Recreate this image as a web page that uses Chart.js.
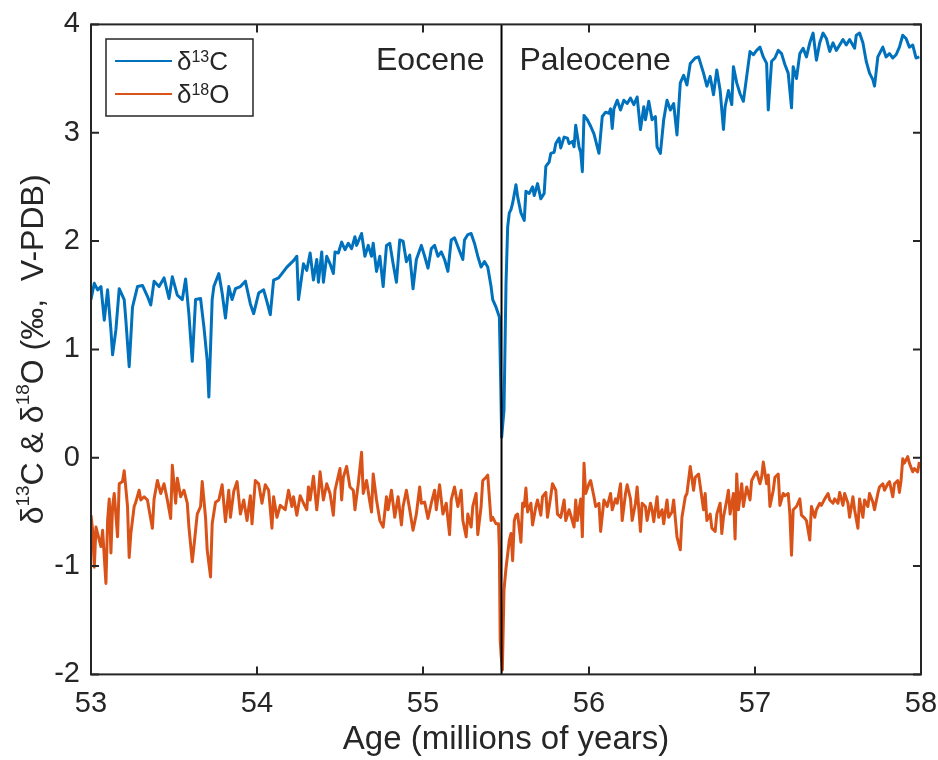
<!DOCTYPE html>
<html>
<head>
<meta charset="UTF-8">
<script src="https://cdn.jsdelivr.net/npm/chart.js@4.4.1/dist/chart.umd.min.js"></script>
<style>
    body { margin: 0; background: #fff; }
    .chart-container { position: relative; width: 938px; height: 760px; }
</style>
</head>
<body>
<div class="chart-container">
    <canvas id="isotopeChart"></canvas>
</div>
<script>
// ages in millions of years, values in per mil (V-PDB)
const carbonAge = [
    53.00,53.02,53.04,53.06,53.08,53.10,53.12,53.13,53.15,53.17,53.20,53.21,53.23,53.25,53.28,53.31,53.34,53.36,53.38,53.41,
    53.44,53.47,53.49,53.52,53.55,53.57,53.59,53.61,53.63,53.66,53.68,53.70,53.71,53.73,53.74,53.77,53.79,53.81,53.83,53.85,
    53.87,53.90,53.93,53.96,53.98,54.01,54.04,54.06,54.08,54.10,54.13,54.15,54.18,54.20,54.22,54.24,54.25,54.28,54.30,54.32,
    54.34,54.36,54.37,54.39,54.40,54.42,54.44,54.46,54.47,54.49,54.51,54.53,54.55,54.57,54.59,54.60,54.63,54.65,54.67,54.69,
    54.70,54.72,54.74,54.76,54.78,54.80,54.82,54.84,54.86,54.88,54.90,54.92,54.94,54.96,54.99,55.01,55.03,55.05,55.07,55.09,
    55.11,55.13,55.15,55.17,55.19,55.21,55.24,55.25,55.27,55.29,55.31,55.33,55.35,55.37,55.39,55.41,55.42,55.44,55.46,55.468,
    55.474,55.48,55.488,55.50,55.51,55.52,55.53,55.54,55.56,55.57,55.59,55.61,55.62,55.64,55.66,55.67,55.69,55.71,55.73,55.74,
    55.76,55.77,55.79,55.80,55.82,55.83,55.85,55.87,55.88,55.90,55.91,55.92,55.94,55.95,55.96,55.97,55.99,56.01,56.03,56.05,
    56.06,56.08,56.10,56.12,56.13,56.14,56.15,56.17,56.19,56.21,56.23,56.25,56.27,56.29,56.31,56.33,56.34,56.36,56.38,56.40,
    56.41,56.43,56.45,56.47,56.49,56.51,56.53,56.55,56.57,56.59,56.61,56.64,56.66,56.69,56.71,56.73,56.75,56.77,56.79,56.81,
    56.82,56.84,56.86,56.87,56.89,56.91,56.93,56.95,56.97,56.99,57.01,57.03,57.05,57.07,57.08,57.10,57.12,57.14,57.16,57.18,
    57.20,57.22,57.23,57.25,57.27,57.29,57.31,57.33,57.35,57.37,57.39,57.41,57.43,57.45,57.47,57.49,57.51,57.53,57.55,57.57,
    57.60,57.61,57.63,57.65,57.67,57.69,57.71,57.72,57.74,57.77,57.79,57.81,57.83,57.85,57.87,57.89,57.91,57.93,57.95,57.97,
    57.99
];
const carbonD13C = [
    1.46,1.61,1.55,1.58,1.27,1.55,1.18,0.95,1.18,1.56,1.46,1.27,0.84,1.39,1.58,1.59,1.49,1.41,1.63,1.58,
    1.66,1.47,1.67,1.50,1.46,1.65,1.32,0.89,1.46,1.47,1.21,0.90,0.56,1.46,1.58,1.70,1.52,1.29,1.58,1.46,
    1.56,1.58,1.63,1.42,1.33,1.52,1.55,1.44,1.32,1.64,1.66,1.70,1.76,1.79,1.82,1.86,1.46,1.79,1.73,1.89,
    1.64,1.83,1.62,1.90,1.62,1.86,1.79,1.70,1.90,1.89,1.99,1.92,1.98,1.93,2.04,1.96,2.07,1.86,1.96,1.86,
    1.98,1.72,1.86,1.58,1.96,1.98,1.79,1.62,2.01,2.00,1.81,1.87,1.56,1.83,1.96,1.86,1.75,1.93,1.96,1.86,
    1.90,1.83,1.72,2.01,2.03,1.95,1.83,2.01,2.06,2.07,1.98,1.86,1.76,1.81,1.76,1.58,1.46,1.39,1.30,0.70,
    0.19,0.30,0.44,1.60,2.13,2.26,2.29,2.35,2.52,2.41,2.26,2.19,2.46,2.44,2.50,2.42,2.53,2.39,2.44,2.69,
    2.73,2.81,2.82,2.90,2.95,2.86,2.96,2.95,2.90,2.92,2.87,3.07,2.87,2.82,2.64,3.16,3.12,3.06,2.99,2.87,
    2.81,3.15,3.19,3.18,3.22,3.04,3.22,3.30,3.21,3.30,3.27,3.32,3.26,3.33,3.03,3.24,3.12,3.29,3.12,3.15,
    2.87,2.81,3.12,3.30,3.21,3.27,2.98,3.46,3.53,3.44,3.64,3.69,3.70,3.55,3.43,3.52,3.35,3.58,3.39,3.03,
    3.24,3.39,3.26,3.61,3.46,3.36,3.29,3.52,3.75,3.72,3.76,3.79,3.70,3.64,3.21,3.66,3.69,3.76,3.73,3.63,
    3.55,3.23,3.61,3.50,3.73,3.78,3.70,3.83,3.92,3.67,3.83,3.92,3.87,3.75,3.83,3.76,3.81,3.86,3.81,3.86,
    3.78,3.90,3.92,3.83,3.66,3.55,3.49,3.43,3.70,3.79,3.70,3.73,3.69,3.72,3.79,3.90,3.87,3.79,3.81,3.69,
    3.70
];
const oxygenAge = [
    53.00,53.01,53.02,53.03,53.05,53.06,53.07,53.09,53.10,53.11,53.12,53.13,53.14,53.16,53.17,53.19,53.20,53.22,53.23,53.24,
    53.26,53.27,53.29,53.30,53.32,53.34,53.35,53.37,53.38,53.40,53.42,53.44,53.46,53.48,53.49,53.51,53.52,53.54,53.56,53.58,
    53.59,53.61,53.62,53.64,53.66,53.67,53.69,53.70,53.72,53.73,53.75,53.77,53.79,53.81,53.83,53.84,53.86,53.88,53.90,53.92,
    53.94,53.96,53.97,53.99,54.01,54.03,54.05,54.07,54.09,54.10,54.12,54.14,54.17,54.19,54.21,54.22,54.24,54.26,54.28,54.30,
    54.31,54.32,54.34,54.36,54.37,54.38,54.40,54.42,54.44,54.46,54.47,54.50,54.51,54.52,54.54,54.56,54.58,54.59,54.61,54.63,
    54.64,54.66,54.68,54.69,54.70,54.72,54.74,54.76,54.78,54.79,54.81,54.83,54.85,54.87,54.88,54.90,54.92,54.94,54.96,54.98,
    54.99,55.01,55.03,55.05,55.07,55.08,55.10,55.12,55.14,55.16,55.17,55.19,55.21,55.23,55.24,55.26,55.27,55.29,55.30,55.32,
    55.33,55.35,55.36,55.38,55.39,55.41,55.42,55.44,55.455,55.46,55.465,55.47,55.478,55.488,55.50,55.52,55.53,55.54,55.55,55.56,
    55.57,55.59,55.60,55.61,55.62,55.63,55.65,55.66,55.68,55.69,55.71,55.72,55.74,55.75,55.77,55.78,55.80,55.81,55.83,55.85,
    55.86,55.88,55.89,55.91,55.92,55.93,55.95,55.96,55.97,55.98,56.00,56.01,56.03,56.04,56.06,56.07,56.09,56.11,56.13,56.14,
    56.16,56.17,56.19,56.20,56.22,56.23,56.25,56.26,56.28,56.29,56.31,56.32,56.34,56.35,56.37,56.38,56.39,56.41,56.42,56.44,
    56.45,56.47,56.48,56.50,56.51,56.53,56.54,56.55,56.56,56.58,56.59,56.61,56.63,56.64,56.66,56.69,56.70,56.71,56.73,56.74,
    56.76,56.77,56.79,56.80,56.81,56.83,56.84,56.85,56.87,56.88,56.89,56.90,56.92,56.93,56.95,56.97,56.98,57.00,57.01,57.03,
    57.04,57.05,57.07,57.08,57.09,57.11,57.12,57.14,57.15,57.17,57.18,57.20,57.21,57.22,57.23,57.25,57.27,57.28,57.30,57.31,
    57.33,57.34,57.36,57.37,57.39,57.40,57.42,57.44,57.45,57.47,57.48,57.50,57.51,57.53,57.54,57.56,57.57,57.59,57.60,57.62,
    57.63,57.65,57.66,57.68,57.69,57.71,57.72,57.74,57.75,57.77,57.78,57.80,57.81,57.83,57.84,57.86,57.87,57.88,57.89,57.90,
    57.92,57.93,57.95,57.96,57.98,57.99
];
const oxygenD18O = [
    -0.53,-0.67,-1.01,-0.64,-0.76,-0.82,-0.67,-1.16,-0.58,-0.38,-0.88,-0.45,-0.33,-0.73,-0.24,-0.22,-0.12,-0.45,-0.92,-0.70,
    -0.45,-0.41,-0.30,-0.39,-0.36,-0.39,-0.48,-0.65,-0.38,-0.21,-0.33,-0.24,-0.39,-0.56,-0.07,-0.42,-0.19,-0.36,-0.30,-0.42,
    -0.64,-0.96,-0.82,-0.52,-0.45,-0.22,-0.55,-0.85,-1.10,-0.61,-0.41,-0.39,-0.25,-0.59,-0.30,-0.55,-0.31,-0.22,-0.52,-0.39,
    -0.58,-0.35,-0.61,-0.21,-0.24,-0.42,-0.25,-0.30,-0.65,-0.36,-0.55,-0.44,-0.48,-0.30,-0.45,-0.36,-0.53,-0.35,-0.42,-0.48,
    -0.27,-0.39,-0.17,-0.48,-0.33,-0.13,-0.39,-0.24,-0.33,-0.53,-0.30,-0.10,-0.39,-0.18,-0.08,-0.27,-0.30,-0.48,-0.24,0.05,
    -0.33,-0.21,-0.41,-0.50,-0.15,-0.39,-0.58,-0.64,-0.36,-0.48,-0.30,-0.55,-0.36,-0.62,-0.45,-0.30,-0.48,-0.67,-0.52,-0.27,
    -0.42,-0.41,-0.56,-0.42,-0.30,-0.48,-0.25,-0.52,-0.42,-0.71,-0.39,-0.27,-0.45,-0.30,-0.58,-0.73,-0.52,-0.64,-0.45,-0.33,
    -0.71,-0.45,-0.21,-0.18,-0.16,-0.58,-0.55,-0.61,-0.61,-0.85,-1.68,-1.81,-1.96,-1.22,-1.02,-0.76,-0.70,-0.95,-0.58,-0.53,
    -0.52,-0.78,-0.42,-0.45,-0.28,-0.50,-0.42,-0.62,-0.45,-0.39,-0.53,-0.36,-0.32,-0.55,-0.35,-0.24,-0.30,-0.52,-0.55,-0.39,
    -0.58,-0.48,-0.53,-0.64,-0.39,-0.58,-0.38,-0.73,-0.05,-0.33,-0.24,-0.21,-0.36,-0.45,-0.42,-0.68,-0.39,-0.45,-0.33,-0.48,
    -0.38,-0.42,-0.24,-0.58,-0.33,-0.25,-0.38,-0.58,-0.42,-0.27,-0.68,-0.42,-0.45,-0.58,-0.42,-0.48,-0.59,-0.36,-0.55,-0.48,
    -0.61,-0.39,-0.55,-0.50,-0.39,-0.73,-0.79,-0.85,-0.55,-0.36,-0.33,-0.08,-0.30,-0.18,-0.15,-0.48,-0.33,-0.58,-0.52,-0.65,
    -0.68,-0.52,-0.42,-0.70,-0.55,-0.39,-0.30,-0.52,-0.33,-0.75,-0.15,-0.48,-0.24,-0.45,-0.27,-0.39,-0.21,-0.15,-0.13,-0.24,
    -0.18,-0.04,-0.24,-0.16,-0.45,-0.30,-0.18,-0.15,-0.44,-0.33,-0.35,-0.33,-0.52,-0.90,-0.48,-0.45,-0.38,-0.53,-0.56,-0.58,
    -0.76,-0.45,-0.55,-0.48,-0.42,-0.44,-0.38,-0.33,-0.39,-0.42,-0.38,-0.42,-0.32,-0.44,-0.33,-0.42,-0.55,-0.36,-0.48,-0.65,
    -0.38,-0.55,-0.39,-0.45,-0.33,-0.41,-0.48,-0.33,-0.27,-0.24,-0.30,-0.24,-0.22,-0.36,-0.24,-0.21,-0.32,-0.21,-0.01,-0.05,
    0.01,-0.05,-0.13,-0.10,-0.13,-0.04
];

const seriesLabels = ['δ13C', 'δ18O'];
const ageTicks = [53, 54, 55, 56, 57, 58];
const valueTicks = [-2, -1, 0, 1, 2, 3, 4];
const boundaryAge = 55.473;
const eraLabels = ['Eocene', 'Paleocene'];

const axisColor = '#262626';
const fontFamily = '"Liberation Sans", Arial, Helvetica, sans-serif';

// draw text with raised digits, e.g. δ13C
function drawRich(ctx, parts, x, y) {
    let cx = x;
    parts.forEach(p => {
        ctx.font = p[1] + 'px ' + fontFamily;
        ctx.fillText(p[0], cx, y - p[2]);
        cx += ctx.measureText(p[0]).width;
    });
}
function richWidth(ctx, parts) {
    let w = 0;
    parts.forEach(p => {
        ctx.font = p[1] + 'px ' + fontFamily;
        w += ctx.measureText(p[0]).width;
    });
    return w;
}
function isoParts(label, size, supSize, rise) {
    // 'δ13C' -> δ, 13 (raised), C
    return [[label.slice(0, 1), size, 0], [label.slice(1, 3), supSize, rise], [label.slice(3), size, 0]];
}

const decorations = {
    id: 'decorations',
    afterDatasetsDraw(chart) {
        const ctx = chart.ctx;
        const area = chart.chartArea;
        const xs = chart.scales.x, ys = chart.scales.y;
        ctx.save();

        // boundary line
        const bx = xs.getPixelForValue(boundaryAge);
        ctx.strokeStyle = '#000';
        ctx.lineWidth = 2;
        ctx.beginPath();
        ctx.moveTo(bx, area.top);
        ctx.lineTo(bx, area.bottom);
        ctx.stroke();

        // axes box with inward ticks
        ctx.strokeStyle = axisColor;
        ctx.lineWidth = 2;
        ctx.strokeRect(area.left, area.top, area.right - area.left, area.bottom - area.top);
        const tl = 8;
        ctx.beginPath();
        ageTicks.forEach(v => {
            const px = xs.getPixelForValue(v);
            ctx.moveTo(px, area.bottom); ctx.lineTo(px, area.bottom - tl);
            ctx.moveTo(px, area.top); ctx.lineTo(px, area.top + tl);
        });
        valueTicks.forEach(v => {
            const py = ys.getPixelForValue(v);
            ctx.moveTo(area.left, py); ctx.lineTo(area.left + tl, py);
            ctx.moveTo(area.right, py); ctx.lineTo(area.right - tl, py);
        });
        ctx.stroke();

        // era labels
        ctx.fillStyle = axisColor;
        ctx.font = '32px ' + fontFamily;
        ctx.textBaseline = 'alphabetic';
        ctx.textAlign = 'right';
        ctx.fillText(eraLabels[0], bx - 17, area.top + 45.6);
        ctx.textAlign = 'left';
        ctx.fillText(eraLabels[1], bx + 18, area.top + 45.6);

        // legend
        const lx = area.left + 15, ly = area.top + 14.6;
        ctx.fillStyle = '#fff';
        ctx.fillRect(lx, ly, 147, 77);
        ctx.strokeStyle = axisColor;
        ctx.lineWidth = 1.5;
        ctx.strokeRect(lx, ly, 147, 77);
        chart.data.datasets.forEach((ds, i) => {
            const rowY = ly + 22 + i * 33;
            ctx.strokeStyle = ds.borderColor;
            ctx.lineWidth = 2;
            ctx.beginPath();
            ctx.moveTo(lx + 9, rowY);
            ctx.lineTo(lx + 66, rowY);
            ctx.stroke();
            ctx.fillStyle = axisColor;
            ctx.textAlign = 'left';
            drawRich(ctx, isoParts(ds.label, 26, 16, 8), lx + 71, rowY + 9);
        });

        // y-axis title
        const yParts = [
            ['δ', 32, 0], ['13', 19, 14], ['C & δ', 32, 0], ['18', 19, 14], ['O (‰,  V-PDB)', 32, 0]
        ];
        ctx.translate(30, (area.top + area.bottom) / 2);
        ctx.rotate(-Math.PI / 2);
        ctx.fillStyle = axisColor;
        ctx.textAlign = 'left';
        drawRich(ctx, yParts, -richWidth(ctx, yParts) / 2, 13);
        ctx.restore();
    }
};

const ctx = document.getElementById('isotopeChart').getContext('2d');
new Chart(ctx, {
    type: 'line',
    data: {
        datasets: [{
            label: seriesLabels[0],
            data: carbonAge.map((a, i) => ({ x: a, y: carbonD13C[i] })),
            borderColor: '#0072BD',
            borderWidth: 3,
            pointRadius: 0,
            tension: 0,
            borderJoinStyle: 'round'
        }, {
            label: seriesLabels[1],
            data: oxygenAge.map((a, i) => ({ x: a, y: oxygenD18O[i] })),
            borderColor: '#D95319',
            borderWidth: 3,
            pointRadius: 0,
            tension: 0,
            borderJoinStyle: 'round'
        }]
    },
    options: {
        responsive: true,
        maintainAspectRatio: false,
        animation: false,
        layout: { padding: { top: 24.4, right: 17, bottom: 0, left: 0 } },
        plugins: {
            legend: { display: false },
            tooltip: { enabled: false }
        },
        scales: {
            x: {
                type: 'linear',
                min: 53,
                max: 58,
                afterBuildTicks: s => { s.ticks = ageTicks.map(v => ({ value: v })); },
                afterFit: s => { s.height = 85.6; s.paddingLeft = 0; s.paddingRight = 0; },
                grid: { display: false, drawTicks: false },
                border: { display: false },
                ticks: { color: axisColor, padding: 12, maxRotation: 0, font: { family: fontFamily, size: 29 } },
                title: {
                    display: true,
                    text: 'Age (millions of years)',
                    color: axisColor,
                    padding: { top: 0, bottom: 0 },
                    font: { family: fontFamily, size: 33 }
                }
            },
            y: {
                min: -2,
                max: 4,
                afterBuildTicks: s => { s.ticks = valueTicks.map(v => ({ value: v })); },
                afterFit: s => { s.width = 91; s.paddingTop = 0; s.paddingBottom = 0; },
                grid: { display: false, drawTicks: false },
                border: { display: false },
                ticks: { color: axisColor, padding: 11, font: { family: fontFamily, size: 29 } }
            }
        }
    },
    plugins: [decorations]
});
</script>
</body>
</html>
